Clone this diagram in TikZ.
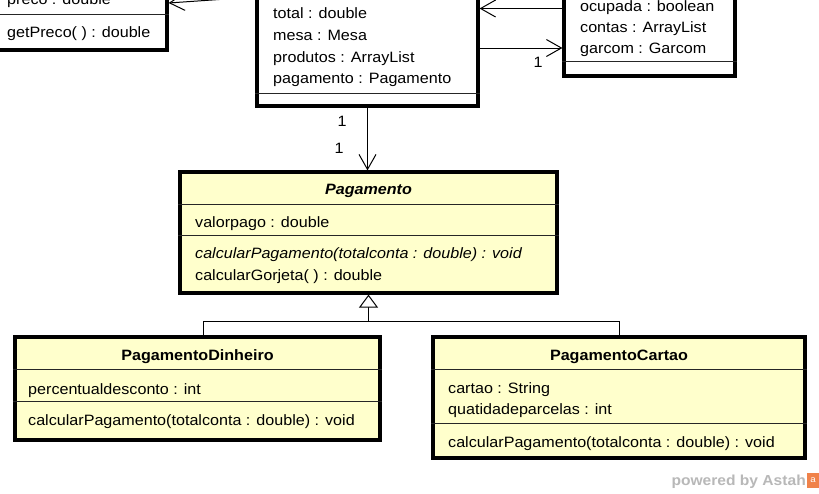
\documentclass[tikz,border=0pt]{standalone}
\usepackage{fontspec}
\setmainfont{Liberation Sans}[FakeStretch=1.075]
\usetikzlibrary{arrows.meta}
\definecolor{umlyellow}{HTML}{FFFFCC}
\definecolor{astahgray}{HTML}{B8B8B8}
\definecolor{astahorange}{HTML}{F0824A}
\begin{document}
\begin{tikzpicture}[x=1pt,y=-1pt,
  umlbox/.style={draw=black, line width=3.2pt, fill=umlyellow, inner sep=0pt},
  whitebox/.style={umlbox, fill=white},
  sepline/.style={draw=black!85, line width=1pt},
  txt/.style={anchor=base west, inner sep=0pt, font=\fontsize{15}{18}\selectfont},
  ttl/.style={anchor=base, inner sep=0pt, font=\fontsize{15}{18}\selectfont\bfseries},
  mult/.style={anchor=center, inner sep=0pt, font=\fontsize{15}{18}\selectfont},
  assoc/.style={draw=black, line width=1pt, -{Straight Barb[length=15pt,width=17pt,line width=1pt]}},
  gen/.style={draw=black, line width=1pt, -{Triangle[open,length=13pt,width=19pt,line width=1pt,fill=white]}},
  conn/.style={draw=black, line width=1pt}]
\path[use as bounding box] (0,0) rectangle (819,493);
\clip (0,0) rectangle (819,493);
\fill[white] (0,0) rectangle (819,493);

% ---- boxes
\node[whitebox, minimum width=197, minimum height=110] (prod) at (68.5,-5) {};
\node[whitebox, minimum width=221, minimum height=166] (conta) at (367.5,23) {};
\node[whitebox, minimum width=171, minimum height=136] (mesa) at (649.5,8) {};
\node[umlbox, minimum width=377, minimum height=121] (pag) at (368.5,232.5) {};
\node[umlbox, minimum width=365, minimum height=103] (din) at (197.5,388.5) {};
\node[umlbox, minimum width=372, minimum height=121] (cart) at (619,397.5) {};

% ---- Produto (partial)
\node[txt] (prodA) at (7,4) {preco : double};
\draw[sepline] (prod.west |- 0,14) -- (prod.east |- 0,14);
\node[txt] (prodM) at (7,37) {getPreco( ) : double};

% ---- Conta (partial)
\node[txt] (contaA1) at (273,18) {total : double};
\node[txt] (contaA2) at (273,40) {mesa : Mesa};
\node[txt] (contaA3) at (273,62) {produtos : ArrayList};
\node[txt] (contaA4) at (273,83) {pagamento : Pagamento};
\draw[sepline] (conta.west |- 0,93) -- (conta.east |- 0,93);

% ---- Mesa (partial)
\node[txt] (mesaA1) at (580,11) {ocupada : boolean};
\node[txt] (mesaA2) at (580,32) {contas : ArrayList};
\node[txt] (mesaA3) at (580,53) {garcom : Garcom};
\draw[sepline] (mesa.west |- 0,61) -- (mesa.east |- 0,61);

% ---- Pagamento
\node[ttl] (pagN) at (368.5,194) {\itshape Pagamento};
\draw[sepline] (pag.west |- 0,204) -- (pag.east |- 0,204);
\node[txt] (pagA) at (195,227) {valorpago : double};
\draw[sepline] (pag.west |- 0,235.5) -- (pag.east |- 0,235.5);
\node[txt] (pagM1) at (195,258) {\itshape calcularPagamento(totalconta : double) : void};
\node[txt] (pagM2) at (195,280) {calcularGorjeta( ) : double};

% ---- PagamentoDinheiro
\node[ttl] (dinN) at (197.5,360) {PagamentoDinheiro};
\draw[sepline] (din.west |- 0,369.5) -- (din.east |- 0,369.5);
\node[txt] (dinA) at (28,394) {percentualdesconto : int};
\draw[sepline] (din.west |- 0,401) -- (din.east |- 0,401);
\node[txt] (dinM) at (28,425) {calcularPagamento(totalconta : double) : void};

% ---- PagamentoCartao
\node[ttl] (cartN) at (619,360) {PagamentoCartao};
\draw[sepline] (cart.west |- 0,369.5) -- (cart.east |- 0,369.5);
\node[txt] (cartA1) at (448,393) {cartao : String};
\node[txt] (cartA2) at (448,414) {quatidadeparcelas : int};
\draw[sepline] (cart.west |- 0,423) -- (cart.east |- 0,423);
\node[txt] (cartM) at (448,447) {calcularPagamento(totalconta : double) : void};

% ---- connectors
\draw[assoc] (conta.west |- 0,-3) -- (prod.east |- 0,3);
\draw[assoc] (mesa.west |- 0,8.5) -- (conta.east |- 0,8.5);
\draw[assoc] (conta.east |- 0,48) -- (mesa.west |- 0,48);
\node[mult] (m1) at (538,62) {1};
\draw[assoc] (conta.south) -- (conta.south |- pag.north);
\node[mult] (m2) at (342,121) {1};
\node[mult] (m3) at (339,148) {1};

\coordinate (gj) at (368.5,321);
\draw[conn] ([xshift=5.5pt]din.north) |- (cart.north |- gj) -- (cart.north);
\draw[gen] (gj) -- (pag.south);

% ---- watermark
\node[anchor=base east, inner sep=0pt, text=astahgray, font=\fontsize{14.5}{16}\selectfont\bfseries] (wm) at (806,485) {powered by Astah};
\node[fill=astahorange, minimum width=12, minimum height=15, inner sep=0pt, text=white, font=\fontsize{9}{9}\selectfont] (logo) at (813,480) {a};
\end{tikzpicture}
\end{document}
